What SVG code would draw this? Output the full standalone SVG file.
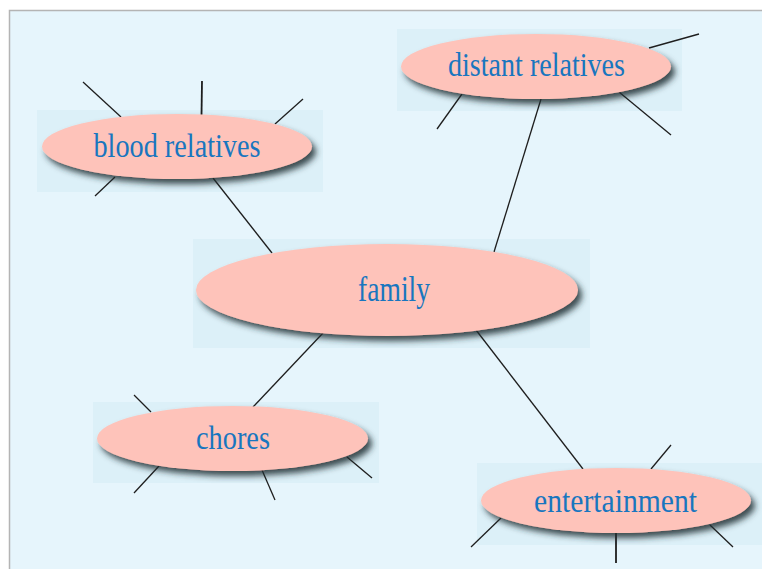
<svg xmlns="http://www.w3.org/2000/svg" width="762" height="569" viewBox="0 0 762 569">
<defs>
<filter id="sh" x="-10%" y="-20%" width="125%" height="150%">
<feDropShadow dx="4" dy="5" stdDeviation="3" flood-color="#1f2d33" flood-opacity="0.85"/>
</filter>
<style>
.panel{fill:#dcf0f8}
.node ellipse{fill:#fec3ba;filter:url(#sh)}
.node text{font-family:"Liberation Serif","Times New Roman",serif;fill:#1876bf;text-anchor:middle}
#connectors line{stroke:#1e1e1e;stroke-width:1.3;fill:none}
</style>
</defs>
<rect x="0" y="0" width="762" height="569" fill="#ffffff"/>
<rect x="9.5" y="10.5" width="800" height="600" fill="#e6f5fc" stroke="#b4b4b4" stroke-width="1.5"/>
<g id="panels">
<rect class="panel" x="37" y="110" width="286" height="82"/>
<rect class="panel" x="397" y="29" width="285" height="82"/>
<rect class="panel" x="193" y="239" width="397" height="109"/>
<rect class="panel" x="93" y="402" width="286" height="81"/>
<rect class="panel" x="477" y="463" width="290" height="82"/>
</g>
<g id="connectors">
<line x1="213" y1="178" x2="272" y2="253"/>
<line x1="541" y1="99" x2="494" y2="252"/>
<line x1="323" y1="333" x2="253" y2="407"/>
<line x1="476" y1="330" x2="583" y2="469"/>
<line x1="83" y1="82" x2="121" y2="117"/>
<line x1="202" y1="81" x2="201.5" y2="116" style="stroke-width:1.8"/>
<line x1="303" y1="99" x2="275" y2="124"/>
<line x1="95" y1="196" x2="115" y2="177"/>
<line x1="649" y1="48" x2="699" y2="34"/>
<line x1="462" y1="94" x2="437" y2="129"/>
<line x1="619" y1="92" x2="671" y2="135"/>
<line x1="134" y1="395" x2="151" y2="412"/>
<line x1="159" y1="466" x2="134" y2="493"/>
<line x1="262" y1="470" x2="275" y2="500"/>
<line x1="347" y1="457" x2="372" y2="478"/>
<line x1="651" y1="469" x2="671" y2="445"/>
<line x1="501" y1="518" x2="471" y2="547"/>
<line x1="616" y1="533" x2="616" y2="563" style="stroke-width:1.8"/>
<line x1="710" y1="525" x2="733" y2="547"/>
</g>
<g id="node-blood" class="node">
<ellipse cx="177" cy="146.5" rx="135" ry="32.5"/>
<text x="177" y="157" font-size="34" textLength="167" lengthAdjust="spacingAndGlyphs">blood relatives</text>
</g>
<g id="node-distant" class="node">
<ellipse cx="536" cy="66.5" rx="135" ry="32.5"/>
<text x="536.5" y="76" font-size="34" textLength="177" lengthAdjust="spacingAndGlyphs">distant relatives</text>
</g>
<g id="node-family" class="node">
<ellipse cx="387" cy="290" rx="191" ry="46"/>
<text x="394" y="301" font-size="36" textLength="72" lengthAdjust="spacingAndGlyphs">family</text>
</g>
<g id="node-chores" class="node">
<ellipse cx="232.5" cy="438.5" rx="135.5" ry="32.5"/>
<text x="233" y="449" font-size="34" textLength="74" lengthAdjust="spacingAndGlyphs">chores</text>
</g>
<g id="node-entertainment" class="node">
<ellipse cx="616" cy="500.5" rx="135" ry="32.5"/>
<text x="615.5" y="512" font-size="34" textLength="163" lengthAdjust="spacingAndGlyphs">entertainment</text>
</g>
</svg>
